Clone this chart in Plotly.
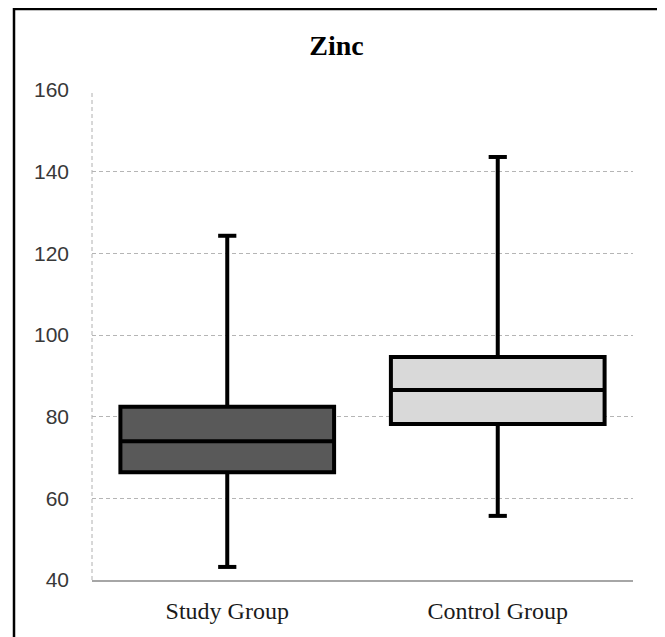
import plotly.graph_objects as go

categories = ["Study Group", "Control Group"]
lower_fence = [43.2, 55.7]
q1 = [66.4, 78.2]
median = [74.0, 86.5]
q3 = [82.4, 94.6]
upper_fence = [124.3, 143.6]
fill_colors = ["#595959", "#d9d9d9"]
y_ticks = [40, 60, 80, 100, 120, 140, 160]

fig = go.Figure()
for i, cat in enumerate(categories):
    fig.add_trace(go.Box(
        x=[cat], q1=[q1[i]], median=[median[i]], q3=[q3[i]],
        lowerfence=[lower_fence[i]], upperfence=[upper_fence[i]],
        fillcolor=fill_colors[i], line=dict(color="black", width=4),
        width=0.79, whiskerwidth=0, showlegend=False, hoverinfo="skip",
    ))

# whisker caps
fig.add_trace(go.Scatter(
    x=categories + categories, y=lower_fence + upper_fence, mode="markers",
    marker=dict(symbol="line-ew", size=13, line=dict(color="black", width=4)),
    showlegend=False, hoverinfo="skip",
))

# page has an 8px body margin; figure sized/placed to compensate
W, H = 657, 629
ml, mr, mt, mb = 84, 32, 82, 57
pw, ph = W - ml - mr, H - mt - mb

def px_to_paper_x(px):
    return (px - ml) / pw

def px_to_paper_y(py):
    return (H - mb - py) / ph

fig.update_layout(
    width=W, height=H,
    margin=dict(l=ml, r=mr, t=mt, b=mb),
    paper_bgcolor="white", plot_bgcolor="white",
    boxmode="overlay",
    title=dict(text="<b>Zinc</b>", x=0.5, xanchor="center", y=1 - 37 / H, yanchor="middle",
               font=dict(family="Liberation Serif", size=28, color="black")),
    xaxis=dict(type="category", categoryorder="array", categoryarray=categories,
               range=[-0.5, 1.5], showgrid=False, showline=True, linecolor="#a6a6a6",
               linewidth=2, ticks="", zeroline=False, ticklabelstandoff=8,
               tickfont=dict(family="Liberation Serif", size=24, color="#1a1a1a")),
    yaxis=dict(range=[40, 160], tickvals=y_ticks, showgrid=True, gridcolor="#b5b5b5",
               griddash="4px,3px", gridwidth=1, zeroline=False, showline=False, ticks="",
               ticklabelstandoff=22,
               tickfont=dict(family="Liberation Sans", size=21, color="#383838")),
    shapes=[
        dict(type="line", xref="paper", yref="paper", x0=0, x1=0, y0=0, y1=1,
             line=dict(color="#b0b0b0", width=1, dash="4px,3px"), layer="below"),
        dict(type="rect", xref="paper", yref="paper",
             x0=px_to_paper_x(6), x1=px_to_paper_x(652),
             y0=px_to_paper_y(660), y1=px_to_paper_y(1),
             line=dict(color="black", width=2.5), layer="above"),
    ],
)

fig.write_html("out.html")
